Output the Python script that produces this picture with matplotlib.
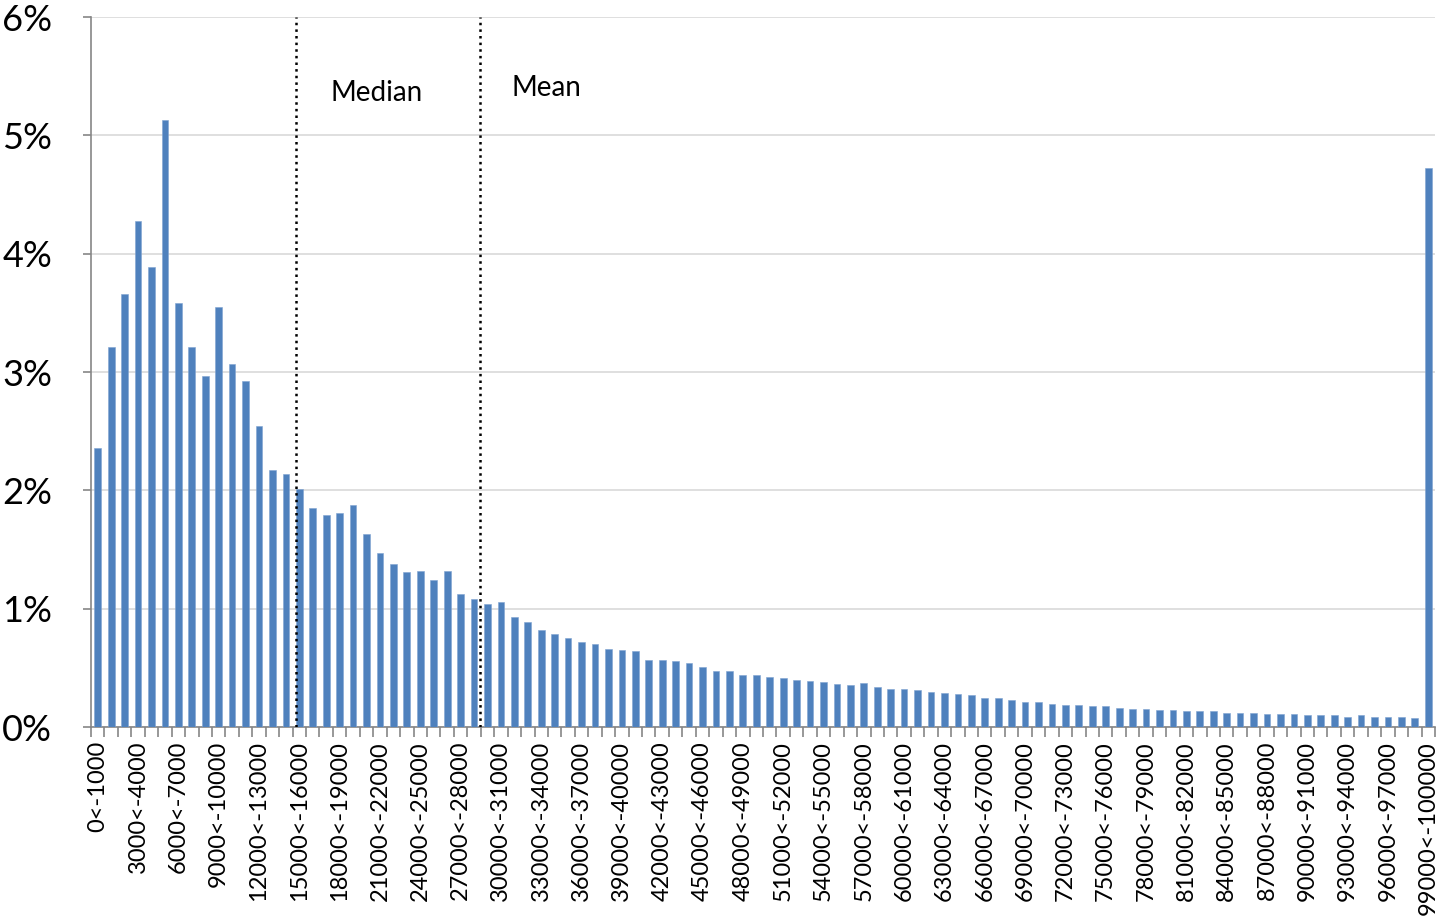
import matplotlib
matplotlib.use("Agg")
import matplotlib.pyplot as plt
from matplotlib.ticker import FixedLocator, PercentFormatter

# income bands, 1000 wide
bands = [f"{lo}<-{lo + 1000}" for lo in range(0, 100000, 1000)]

# share of people in each band, in percent
shares = [
    2.36, 3.21, 3.66, 4.28, 3.89, 5.13, 3.58, 3.21, 2.97, 3.55,
    3.07, 2.92, 2.54, 2.17, 2.14, 2.01, 1.85, 1.79, 1.81, 1.88,
    1.63, 1.47, 1.38, 1.31, 1.32, 1.24, 1.32, 1.12, 1.08, 1.04,
    1.06, 0.93, 0.89, 0.82, 0.79, 0.75, 0.72, 0.70, 0.66, 0.65,
    0.64, 0.57, 0.565, 0.555, 0.54, 0.51, 0.475, 0.475, 0.44, 0.44,
    0.42, 0.41, 0.40, 0.39, 0.38, 0.365, 0.355, 0.375, 0.34, 0.32,
    0.32, 0.31, 0.30, 0.29, 0.28, 0.27, 0.243, 0.243, 0.232, 0.209,
    0.209, 0.198, 0.186, 0.186, 0.175, 0.175, 0.164, 0.155, 0.155, 0.144,
    0.144, 0.133, 0.133, 0.133, 0.121, 0.121, 0.121, 0.11, 0.11, 0.11,
    0.099, 0.099, 0.099, 0.088, 0.099, 0.088, 0.088, 0.088, 0.076, 4.72,
]

# where median and mean fall, in band positions
median_pos = 14.75
mean_pos = 28.45

fig = plt.figure(figsize=(14.37, 9.21), dpi=100)
ax = fig.add_axes([91 / 1437, 1 - 727 / 921, 1344 / 1437, 710 / 921])

x = list(range(len(bands)))
ax.bar(x, shares, width=0.5, color="#4F81BD", edgecolor="#7FA3D1", linewidth=0.4, zorder=3)

ax.set_xlim(-0.5, len(bands) - 0.5)
ax.set_ylim(0, 6)

ax.set_yticks(range(0, 7))
ax.yaxis.set_major_formatter(PercentFormatter(decimals=0))
ax.grid(axis="y", color="#D9D9D9", linewidth=1.2, zorder=0)

ax.set_xticks(x[::3])
ax.set_xticklabels(bands[::3], rotation=90, fontsize=17, family="Lato")
ax.xaxis.set_minor_locator(FixedLocator([i - 0.5 for i in range(len(bands) + 1)]))
ax.tick_params(axis="x", which="major", length=0, pad=10)
ax.tick_params(axis="x", which="minor", length=7, color="#868686", width=1.2)
ax.tick_params(axis="y", length=6, color="#868686", width=1.2, labelsize=26, pad=22)
for lab in ax.get_yticklabels():
    lab.set_family("Lato")

for side in ["top", "right"]:
    ax.spines[side].set_visible(False)
for side in ["left", "bottom"]:
    ax.spines[side].set_color("#868686")
    ax.spines[side].set_linewidth(1.2)

ax.axvline(median_pos, color="black", linestyle=":", linewidth=1.8, zorder=4)
ax.axvline(mean_pos, color="black", linestyle=":", linewidth=1.8, zorder=4)
ax.text(17.3, 5.36, "Median", fontsize=20, family="Lato", va="center", ha="left")
ax.text(30.75, 5.40, "Mean", fontsize=20, family="Lato", va="center", ha="left")

fig.savefig("out.png", dpi=100)
